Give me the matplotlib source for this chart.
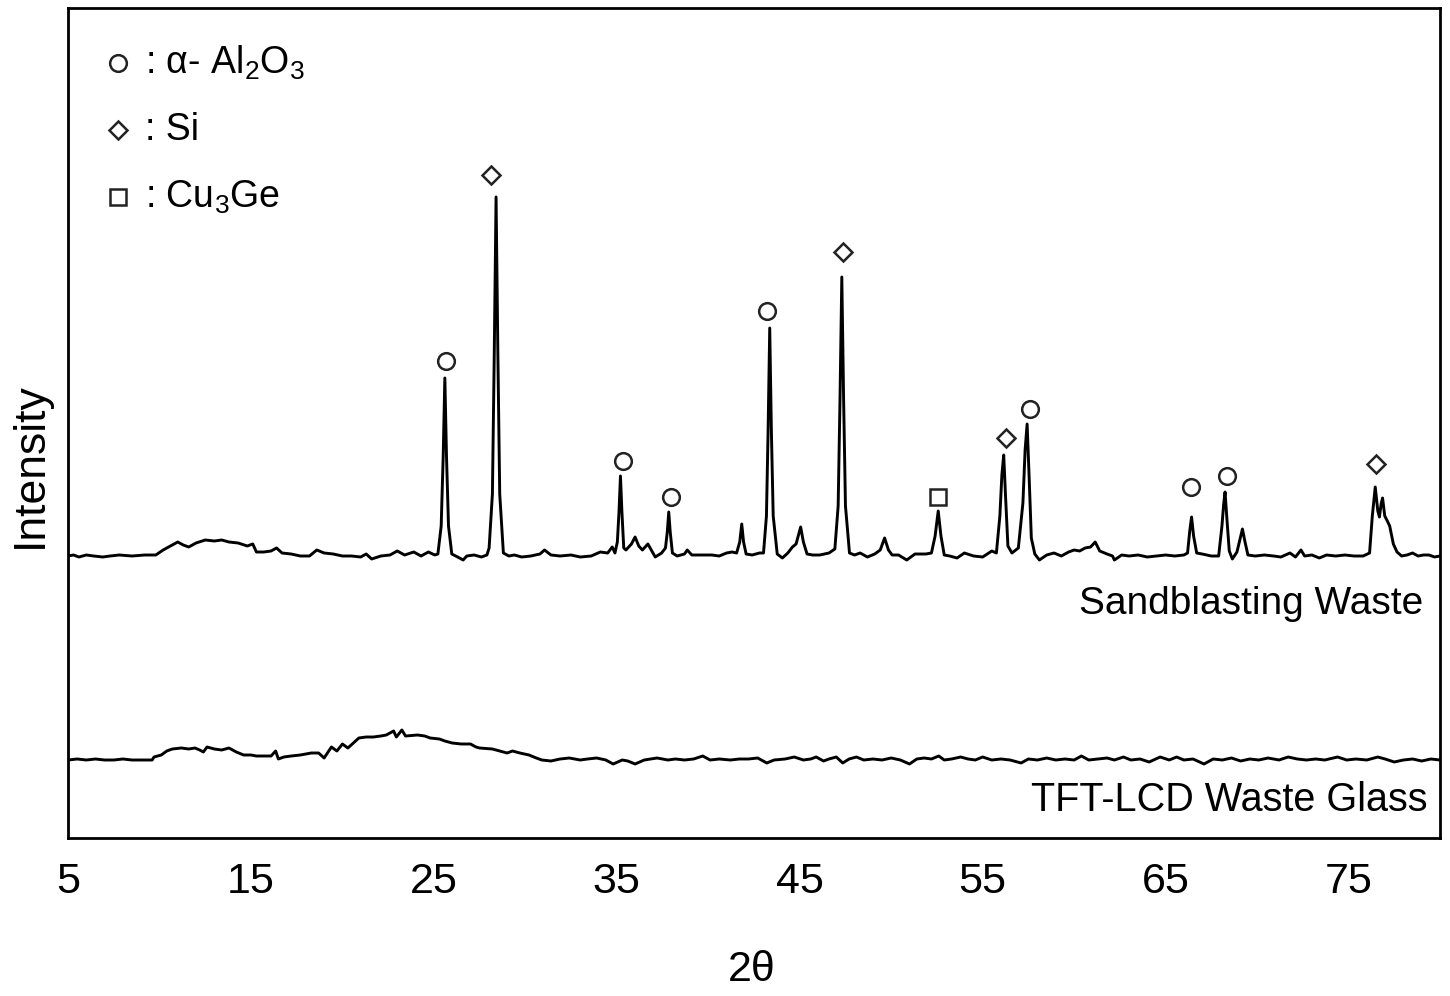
import matplotlib
matplotlib.use("Agg")
import matplotlib.pyplot as plt
import numpy as np

plt.rcParams["font.family"] = ["Liberation Sans", "DejaVu Sans"]
plt.rcParams["mathtext.default"] = "regular"

# Sandblasting waste pattern: 2theta (deg) and intensity above its own baseline
sb_2theta = [
    5.0, 5.3, 5.6, 6.0, 6.4, 6.9, 7.3, 7.8, 8.5, 9.2, 9.8, 10.2, 10.6, 11.0, 11.3,
    11.6, 12.0, 12.5, 13.0, 13.4, 13.8, 14.3, 14.8, 15.1, 15.3, 15.7, 16.1, 16.4,
    16.7, 17.2, 17.7, 18.2, 18.6, 19.0, 19.5, 20.0, 20.5, 21.0, 21.3, 21.6, 22.1,
    22.6, 23.0, 23.4, 23.9, 24.3, 24.7, 25.05,
    25.22, 25.40, 25.51, 25.60, 25.69, 25.80, 25.98,
    26.3, 26.6, 26.8, 27.2, 27.6, 27.9,
    28.02, 28.20, 28.30, 28.40, 28.50, 28.60, 28.80,
    29.1, 29.4, 29.8, 30.3, 30.8, 31.05, 31.4, 31.9, 32.5, 33.0, 33.6, 34.1, 34.5,
    34.75, 34.9,
    35.03, 35.12, 35.20, 35.28, 35.38,
    35.5, 35.8, 36.0, 36.2, 36.4, 36.7, 36.95, 37.1, 37.45,
    37.66, 37.76, 37.84, 37.92, 38.04,
    38.3, 38.7, 38.85, 39.1, 39.6, 40.2, 40.6, 41.0, 41.3, 41.55,
    41.72, 41.83, 41.93, 42.07,
    42.4, 42.8, 43.02,
    43.18, 43.27, 43.36, 43.45, 43.55, 43.77,
    44.05, 44.35, 44.6, 44.8, 45.05, 45.2, 45.4,
    45.7, 46.1, 46.6, 46.92,
    47.10, 47.20, 47.30, 47.40, 47.50, 47.72,
    48.0, 48.3, 48.7, 49.1, 49.4, 49.64, 49.85, 50.05, 50.4, 50.85, 51.3, 51.9, 52.2,
    52.40, 52.57, 52.72, 52.9,
    53.2, 53.6, 54.0, 54.5, 55.0, 55.5, 55.75,
    55.94, 56.05, 56.15, 56.25, 56.38,
    56.6, 56.95,
    57.20, 57.32, 57.43, 57.54, 57.66, 57.85,
    58.1, 58.5, 58.9, 59.3, 59.7, 60.0, 60.3, 60.6, 60.9, 61.15, 61.4, 61.8, 62.1,
    62.2, 62.6, 63.0, 63.5, 64.0, 64.5, 65.0, 65.5, 66.0, 66.2,
    66.32, 66.42, 66.53, 66.7,
    67.0, 67.5, 67.9,
    68.08, 68.17, 68.25, 68.34, 68.48, 68.65,
    68.9, 69.08, 69.2, 69.33, 69.5,
    69.9, 70.4, 70.9, 71.3, 71.8, 72.1, 72.4, 72.6, 73.0, 73.4, 73.8, 74.3, 74.8,
    75.3, 75.8,
    76.15, 76.30, 76.46, 76.60, 76.69, 76.78, 76.86, 76.98, 77.12, 77.25, 77.45,
    77.65, 77.9, 78.2, 78.5, 78.8, 79.1, 79.4, 79.7, 80.0,
]
sb_int = [
    0, 1, -1, 1, 0, -1, 0, 1, 0, 1, 1, 6, 10, 14, 11,
    9, 13, 16, 15, 16, 14, 13, 10, 12, 4, 4, 5, 8,
    3, 2, 0, 0, 6, 3, 2, 0, 0, -1, 2, -3, 0,
    1, 5, 1, 4, 0, 4, 1,
    2, 30, 100, 178, 100, 30, 2,
    -1, -4, 0, 1, -1, 1,
    8, 62, 200, 359, 200, 62, 3,
    0, 1, -1, 0, 2, 6, 1, 0, 1, -1, 0, 4, 3,
    9, 3,
    14, 44, 80, 44, 8,
    6, 12, 19, 10, 6, 12, 4, -1, 3,
    8, 24, 44, 24, 3,
    0, 2, 6, 1, 1, 1, 0, 3, 4, 3,
    14, 32, 14, 2,
    1, 3, 3,
    40, 125, 228, 125, 40, 2,
    -2, 3, 9, 12, 29, 14, 2,
    1, 1, 3, 7,
    50, 155, 279, 155, 50, 3,
    1, 3, -1, 2, 6, 18, 6, 1, 1, -4, 2, 2, 3,
    20, 45, 20, 1,
    0, -2, 3, 0, -1, 5, 3,
    40, 81, 101, 60, 10,
    3, 8,
    53, 106, 132, 79, 18, 2,
    -4, 1, 3, 0, 4, 6, 5, 8, 9, 14, 5, 2, 0,
    -4, 1, 0, 1, -1, 0, 1, 0, 1, 3,
    25, 39, 20, 3,
    2, 0, 0,
    30, 51, 64, 40, 5, -3,
    4, 18, 27, 15, 1,
    0, 1, 0, -1, 3, -1, 6, 0, 1, -2, 1, 0, 1,
    0, 0,
    3, 40, 69, 45, 39, 52, 58, 40, 35, 30, 12,
    4, 0, 1, 3, 0, 1, 1, -1, 0,
]

# TFT-LCD waste glass pattern
tft_2theta = [
    5.0, 5.5, 6.0, 6.5, 7.0, 7.5, 8.0, 8.5, 9.0, 9.6, 9.7, 10.1, 10.4, 10.7, 11.2,
    11.6, 11.94, 12.2, 12.4, 12.6, 13.0, 13.4, 13.8, 14.2, 14.6, 15.0, 15.3, 15.8,
    16.1, 16.35, 16.5, 16.8, 17.2, 17.7, 18.3, 18.7, 19.0, 19.4, 19.7, 20.0, 20.3,
    20.9, 21.3, 21.7, 22.1, 22.4, 22.8, 22.95, 23.25, 23.45, 24.1, 24.5, 24.8, 25.3,
    25.6, 26.0, 26.5, 27.0, 27.3, 27.5, 28.2, 28.6, 29.0, 29.3, 29.7, 30.2, 30.6,
    30.9, 31.4, 31.9, 32.4, 33.0, 33.4, 33.9, 34.4, 34.8, 35.3, 35.6, 36.0, 36.5,
    37.2, 37.8, 38.2, 38.7, 39.2, 39.7, 40.1, 40.6, 41.2, 41.7, 42.2, 42.7, 43.2,
    43.6, 44.2, 44.7, 45.2, 45.6, 45.9, 46.3, 46.6, 47.0, 47.35, 47.7, 48.1, 48.5,
    49.0, 49.5, 50.0, 50.5, 51.0, 51.4, 51.8, 52.2, 52.6, 52.9, 53.3, 53.8, 54.2,
    54.6, 55.0, 55.5, 56.0, 56.5, 57.1, 57.5, 58.0, 58.5, 59.0, 59.5, 60.0, 60.4,
    60.8, 61.3, 61.8, 62.2, 62.7, 63.1, 63.6, 64.1, 64.7, 65.2, 65.6, 66.0, 66.5,
    67.1, 67.6, 68.1, 68.6, 69.1, 69.6, 70.1, 70.6, 71.2, 71.7, 72.2, 72.7, 73.2,
    73.7, 74.4, 74.9, 75.4, 76.0, 76.6, 77.0, 77.5, 78.0, 78.5, 79.0, 79.5, 80.0,
]
tft_int = [
    0, 1, 0, 1, 0, 0, 1, 0, 0, 0, 3, 5, 9, 11, 12,
    11, 12, 10, 8, 13, 11, 10, 12, 8, 5, 5, 4, 4,
    4, 9, 1, 3, 4, 5, 7, 7, 2, 13, 9, 16, 12,
    22, 23, 23, 24, 25, 29, 23, 30, 24, 25, 24, 22, 21,
    19, 17, 16, 16, 13, 12, 11, 9, 7, 9, 7, 5, 2,
    0, -1, 1, 2, 0, 1, 2, 0, -4, 0, -1, -4, 0,
    2, 0, 1, 0, 1, 4, 0, 1, 0, 1, 1, 2, -3,
    0, 1, 3, 0, 1, 3, -1, 1, 3, -3, 1, 3, 0,
    1, 0, 2, 0, -4, 1, 2, 1, 4, 0, 1, 3, 1,
    0, 3, 0, 1, 0, -3, 1, 0, 2, 0, 1, 0, 4,
    0, 1, 2, 0, 3, 0, 1, -2, 3, 0, 3, 0, 1,
    -4, 1, 0, 2, -1, 1, 0, 2, 0, 3, 1, 0, 1,
    0, 3, 0, 1, 0, 3, 1, -2, 0, 1, -1, 1, 0,
]

# phase markers above the sandblasting peaks (2theta, intensity above baseline)
al2o3_x = [25.66, 35.33, 37.95, 43.21, 57.6, 66.37, 68.33]
al2o3_y = [195, 95, 59, 245, 147, 69, 80]
si_x = [28.15, 47.35, 56.26, 76.48]
si_y = [381, 304, 118, 92]
cu3ge_x = [52.54]
cu3ge_y = [59]

sb_offset = 282
tft_offset = 78

fig = plt.figure(figsize=(14.5, 9.96), dpi=100)
ax = fig.add_axes([68 / 1450, 158 / 996, 1372 / 1450, 830 / 996])

lw = 2.1
ax.plot(sb_2theta, np.array(sb_int) + sb_offset, color="black", lw=lw,
        solid_joinstyle="round")
ax.plot(tft_2theta, np.array(tft_int) + tft_offset, color="black", lw=lw,
        solid_joinstyle="round")

mk = dict(ls="none", mfc="white", mec="#222222", mew=1.8)
ax.plot(al2o3_x, np.array(al2o3_y) + sb_offset, marker="o", ms=12, **mk)
ax.plot(si_x, np.array(si_y) + sb_offset, marker="D", ms=9, **mk)
ax.plot(cu3ge_x, np.array(cu3ge_y) + sb_offset, marker="s", ms=12, **mk)

ax.set_xlim(5, 80)
ax.set_ylim(0, 830)
ax.set_xticks([5, 15, 25, 35, 45, 55, 65, 75])
ax.set_yticks([])
ax.tick_params(axis="x", length=0, pad=17, labelsize=31)
for s in ax.spines.values():
    s.set_linewidth(2.0)

# legend drawn by hand
leg = [("o", 12, r": α- Al$_2$O$_3$", 0.934),
       ("D", 9, ": Si", 0.853),
       ("s", 11, r": Cu$_3$Ge", 0.772)]
for m, ms, lab, yy in leg:
    ax.plot([0.0364], [yy], marker=m, ms=ms, transform=ax.transAxes, **mk)
    ax.text(0.056, yy, lab, transform=ax.transAxes, fontsize=27,
            ha="left", va="center")

ax.text(0.988, 0.282, "Sandblasting Waste", transform=ax.transAxes,
        fontsize=28, ha="right", va="center")
ax.text(0.991, 0.046, "TFT-LCD Waste Glass", transform=ax.transAxes,
        fontsize=28.5, ha="right", va="center")

fig.text(752 / 1450, 1 - 970 / 996, "2θ", fontsize=31, ha="center", va="center")
fig.text(30 / 1450, 1 - 465 / 996, "Intensity", fontsize=32, rotation=90,
         ha="center", va="center")

fig.savefig("out.png", dpi=100)
